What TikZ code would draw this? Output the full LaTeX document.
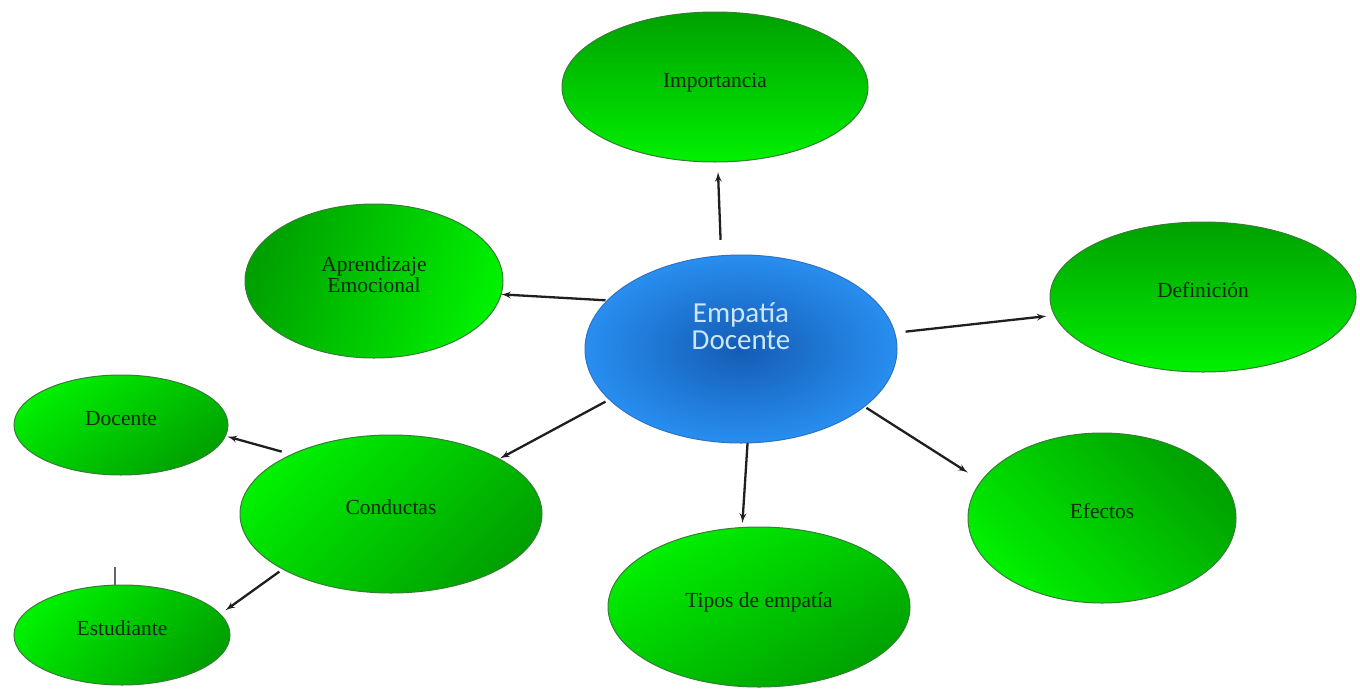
\documentclass[tikz,border=0pt]{standalone}
\usepackage{fontspec}
\setmainfont{Liberation Serif}
\newfontfamily\calibri{Carlito}
\usepackage{tikz}
\usetikzlibrary{shapes,arrows,shadings}
\definecolor{gdark}{RGB}{0,160,0}
\definecolor{glight}{RGB}{0,240,0}
\definecolor{gborder}{RGB}{55,125,55}
\definecolor{gtext}{RGB}{14,40,14}
\definecolor{bin}{RGB}{20,92,180}
\definecolor{bout}{RGB}{40,142,240}
\definecolor{bborder}{RGB}{45,115,195}
\definecolor{btext}{RGB}{205,230,255}

\begin{document}
\begin{tikzpicture}[x=1pt,y=-1pt,
	leaf/.style={ellipse,draw=gborder,line width=1pt,top color=gdark,bottom color=glight,
		inner sep=0pt,outer sep=0pt,text=gtext,align=center,
		font=\fontsize{21.5}{19}\selectfont,text height=14pt,text depth=14pt},
	hub/.style={ellipse,draw=bborder,line width=1pt,inner color=bin,outer color=bout,
		inner sep=0pt,outer sep=0pt,text=btext,align=center,
		font=\calibri\fontsize{29}{27}\selectfont},
	link/.style={-latex',line width=2.3pt,draw=black!88},
	stub/.style={line width=1.5pt,draw=black!60}]
	\path[use as bounding box,fill=white] (0,0) rectangle (1360,691);
	\node(hub) [hub,minimum width=312pt,minimum height=188pt,text height=40pt,text depth=40pt] at (741,349) {Empatía\\Docente};
	\node(imp) [leaf,minimum width=306pt,minimum height=150pt] at (715,87) {Importancia};
	\node(def) [leaf,minimum width=306pt,minimum height=150pt] at (1203,297) {Definición};
	\node(apr) [leaf,shading angle=70,minimum width=258pt,minimum height=154pt,text height=40pt,text depth=18pt] at (374,281) {Aprendizaje\\Emocional};
	\node(efe) [leaf,shading angle=-45,minimum width=268pt,minimum height=170pt] at (1102,518) {Efectos};
	\node(tip) [leaf,shading angle=-150,minimum width=302pt,minimum height=160pt] at (759,607) {Tipos de empatía};
	\node(con) [leaf,shading angle=-135,minimum width=302pt,minimum height=158pt] at (391,514) {Conductas};
	\node(doc) [leaf,shading angle=-145,minimum width=214pt,minimum height=100pt] at (121,425) {Docente};
	\node(est) [leaf,shading angle=-135,minimum width=216pt,minimum height=100pt] at (122,635) {Estudiante};
	\draw[link,shorten <=16pt,shorten >=10pt] (hub.102.4) -- (imp.272.3);
	\draw[link,shorten <=2pt] (hub.160.8) -- (apr.354.6);
	\draw[link,shorten <=11pt,shorten >=8pt] (hub.6.7) -- (def.187.9);
	\draw[link,shorten <=2.5pt,shorten >=16pt] (hub.335.7) -- (efe.163.5);
	\draw[link,shorten >=4.5pt] (hub.274.3) -- (tip.102.1);
	\draw[link,shorten <=4.5pt,shorten >=1pt] (hub.201.8) -- (con.27.2);
	\draw[link,shorten <=10.5pt,shorten >=2pt] (con.149.8) -- (doc.354.9);
	\draw[link,shorten <=4.3pt,shorten >=6.5pt] (con.207.3) -- (est.12.3);
	\draw[stub] (est.98) -- ++(0,-18);
\end{tikzpicture}
\end{document}
